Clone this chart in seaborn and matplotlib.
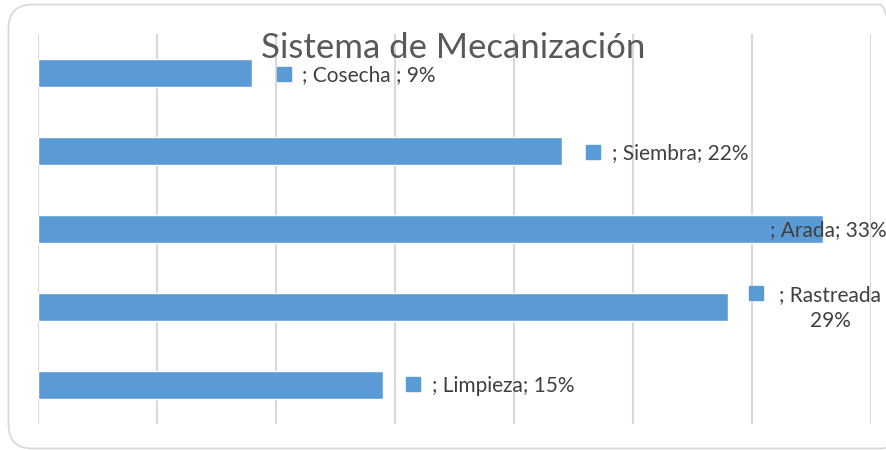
import matplotlib
matplotlib.use("Agg")
import matplotlib.pyplot as plt
import matplotlib.transforms as mtransforms
from matplotlib.patches import FancyBboxPatch
import seaborn as sns
import pandas as pd

categories = ["Cosecha", "Siembra", "Arada", "Rastreada", "Limpieza"]
values = [9.0, 22.0, 33.0, 29.0, 14.5]
labels = ["; Cosecha ; 9%", "; Siembra; 22%", "; Arada; 33%", "; Rastreada\n29%", "; Limpieza; 15%"]
title = "Sistema de Mecanización"

BAR = "#5B9BD5"
GRID = "#D9D9D9"
TXT = "#404040"

sns.set_theme(style="white")
plt.rcParams["font.family"] = ["Lato", "DejaVu Sans"]

fig = plt.figure(figsize=(8.87, 4.5), dpi=100)
ax = fig.add_axes([38 / 887, 1 - 424 / 450, 833 / 887, 390 / 450])

df = pd.DataFrame({"cat": categories, "val": values})
sns.barplot(data=df, x="val", y="cat", orient="h", color=BAR, saturation=1,
            width=0.36, ax=ax, zorder=2)

ax.set_xlim(0, 35)
ax.set_ylim(4.5, -0.5)
ax.set_xticks(range(0, 36, 5))
ax.set_xticklabels([])
ax.set_yticks([])
ax.set_xlabel("")
ax.set_ylabel("")
ax.grid(False)
for x in range(0, 36, 5):
    ax.axvline(x, color=GRID, lw=1.5, zorder=1)
for s in ax.spines.values():
    s.set_visible(False)
ax.tick_params(length=0)

# label offsets in pixels: (marker dx, marker dy, text dx, text dy) ; dy positive = down
offs = [
    (32, 1, 50, 2),
    (31, 1, 50, 2),
    (-72, 1, -53, 1),
    (28, -14, 102, 1),
    (30, -1, 49, 1),
]
FS = 15
for i, (v, lab, (mdx, mdy, tdx, tdy)) in enumerate(zip(values, labels, offs)):
    tr_m = mtransforms.offset_copy(ax.transData, fig=fig, x=mdx, y=-mdy, units="dots")
    ax.plot([v], [i], marker="s", ms=9.5, color=BAR, transform=tr_m, clip_on=False, zorder=3)
    tr_t = mtransforms.offset_copy(ax.transData, fig=fig, x=tdx, y=-tdy, units="dots")
    if "\n" in lab:
        ax.text(v, i, lab, transform=tr_t, ha="center", va="center", fontsize=FS,
                color=TXT, clip_on=False, zorder=4, linespacing=1.35,
                multialignment="center")
    else:
        ax.text(v, i, lab, transform=tr_t, ha="left", va="center", fontsize=FS,
                color=TXT, clip_on=False, zorder=4)

fig.text(453 / 887, 1 - 48 / 450, title, ha="center", va="center", fontsize=25,
         color="#595959", zorder=5)

border = FancyBboxPatch((8.5, 1.5), 895, 444, boxstyle="round,pad=0,rounding_size=24",
                        transform=mtransforms.IdentityTransform(), fill=False,
                        edgecolor=GRID, lw=1.3)
fig.patches.append(border)

fig.savefig("out.png", dpi=100)
